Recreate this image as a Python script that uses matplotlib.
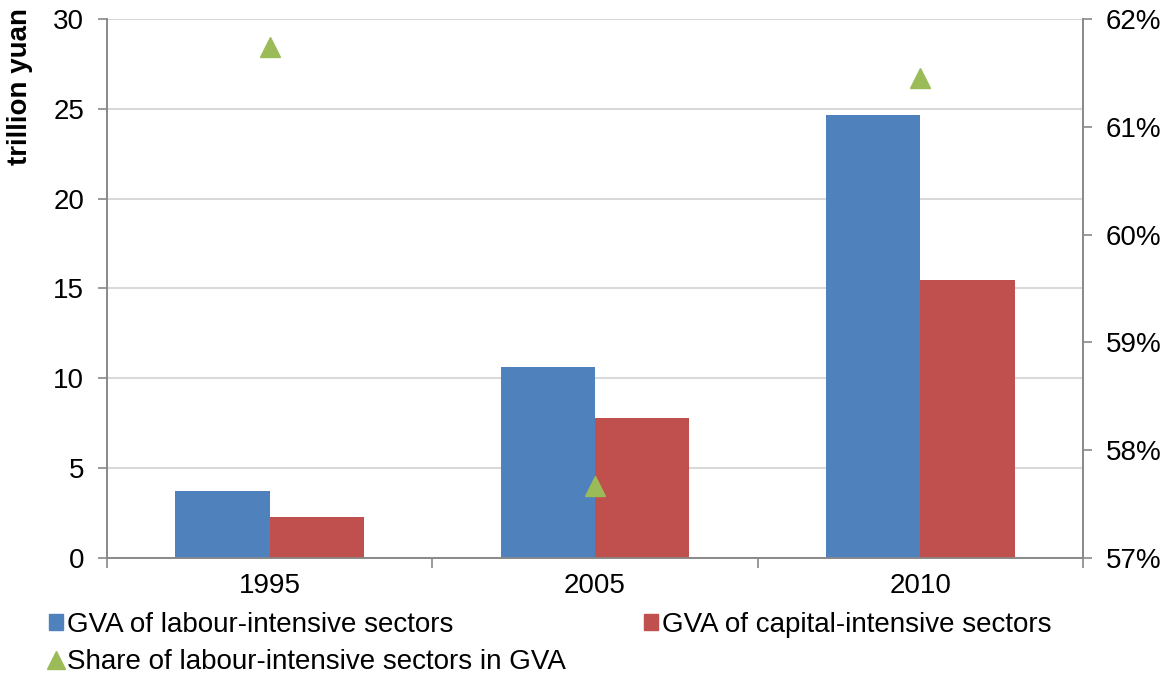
import numpy as np
import matplotlib
matplotlib.use('Agg')
import matplotlib.pyplot as plt
from matplotlib.ticker import FuncFormatter
from matplotlib.patches import Patch
from matplotlib.lines import Line2D

plt.rcParams['font.family'] = ['Liberation Sans', 'DejaVu Sans']

years = ['1995', '2005', '2010']
labour_gva = [3.75, 10.65, 24.65]
capital_gva = [2.3, 7.82, 15.47]
labour_share = [61.74, 57.67, 61.45]

blue = '#4F81BD'
red = '#C0504D'
green = '#9BBB59'
axis_grey = '#898989'
fs = 20

fig = plt.figure(figsize=(11.75, 6.75), dpi=100)
ax = fig.add_axes([0.0911, 0.1733, 0.8306, 0.7986])

x = np.arange(len(years))
w = 0.29
ax.bar(x - w / 2, labour_gva, w, color=blue, zorder=3)
ax.bar(x + w / 2, capital_gva, w, color=red, zorder=3)

ax.set_xlim(-0.5, 2.5)
ax.set_ylim(0, 30)
ax.set_yticks(range(0, 31, 5))
ax.yaxis.grid(True, color='#D9D9D9', linewidth=1.5, zorder=0)
ax.set_axisbelow(True)

ax.set_xticks([0.5, 1.5, 2.5, -0.5])
ax.set_xticklabels([])
ax.set_xticks(x, minor=True)
ax.set_xticklabels(years, minor=True)
ax.tick_params(axis='x', which='major', length=7, color=axis_grey, width=1.2)
ax.tick_params(axis='x', which='minor', length=0, pad=11, labelsize=fs)
ax.tick_params(axis='y', length=6.5, color=axis_grey, width=1.2, pad=10, labelsize=fs)

for s in ['left', 'bottom', 'right']:
    ax.spines[s].set_color(axis_grey)
    ax.spines[s].set_linewidth(1.2)
ax.spines['top'].set_visible(False)

ax2 = ax.twinx()
ax2.plot(x, labour_share, linestyle='none', marker='^', markersize=15,
         color=green, zorder=4)
ax2.set_ylim(57, 62)
ax2.set_yticks(range(57, 63))
ax2.yaxis.set_major_formatter(FuncFormatter(lambda v, p: '%d%%' % v))
ax2.tick_params(axis='y', length=6.5, color=axis_grey, width=1.2, pad=10, labelsize=fs)
for s in ['left', 'bottom', 'right']:
    ax2.spines[s].set_color(axis_grey)
    ax2.spines[s].set_linewidth(1.2)
ax2.spines['top'].set_visible(False)

fig.text(0.017, 0.988, 'trillion yuan', rotation=90, va='top', ha='center',
         fontsize=20, fontweight='bold')

handles = [
    Patch(color=blue),
    Line2D([], [], linestyle='none', marker='^', markersize=13, color=green),
    Patch(color=red),
]
labels = [
    'GVA of labour-intensive sectors',
    'Share of labour-intensive sectors in GVA',
    'GVA of capital-intensive sectors',
]
fig.legend(handles, labels, ncol=2, loc='upper left',
           bbox_to_anchor=(0.042, 0.093), frameon=False, fontsize=fs,
           handlelength=0.5, handleheight=0.5, handletextpad=0.15,
           columnspacing=2.8, labelspacing=0.38, borderpad=0,
           borderaxespad=0)

fig.savefig('out.png', dpi=100)
